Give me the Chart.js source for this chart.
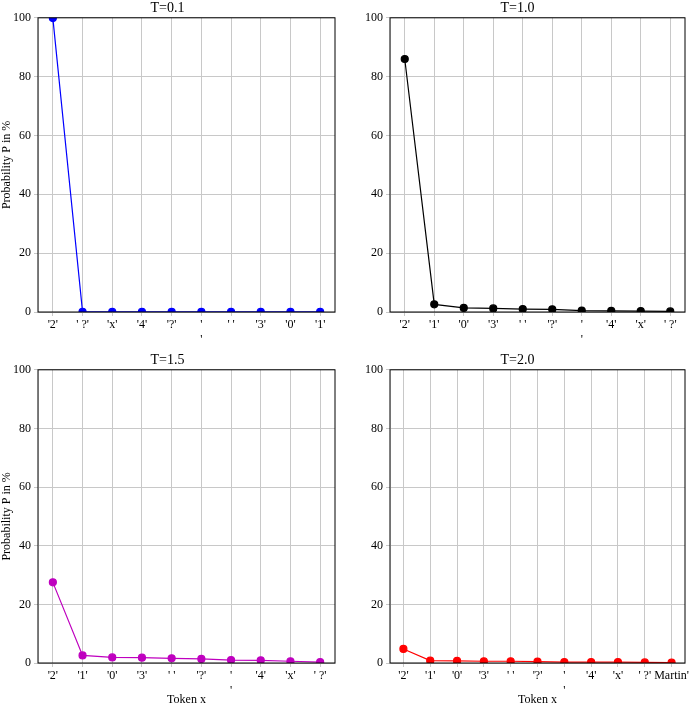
<!DOCTYPE html>
<html lang="en">
<head>
<meta charset="UTF-8" />
<title>Temperature sampling</title>
<script src="https://cdn.jsdelivr.net/npm/chart.js"></script>
<style>
  body { margin: 0; background: #fff; }
  .panel { position: absolute; }
</style>
</head>
<body>
<div class="panel" style="left:0;top:0;width:345px;height:352px"><canvas id="c1"></canvas></div>
<div class="panel" style="left:350px;top:0;width:345px;height:352px"><canvas id="c2"></canvas></div>
<div class="panel" style="left:0;top:352px;width:345px;height:355px"><canvas id="c3"></canvas></div>
<div class="panel" style="left:350px;top:352px;width:345px;height:355px"><canvas id="c4"></canvas></div>
<script>
  const NL = ["'", "'"];
  const labels01 = ["'2'", "' ?'", "'x'", "'4'", "'?'", NL, "' '", "'3'", "'0'", "'1'"];
  const labels10 = ["'2'", "'1'", "'0'", "'3'", "' '", "'?'", NL, "'4'", "'x'", "' ?'"];
  const labels15 = ["'2'", "'1'", "'0'", "'3'", "' '", "'?'", NL, "'4'", "'x'", "' ?'"];
  const labels20 = ["'2'", "'1'", "'0'", "'3'", "' '", "'?'", NL, "'4'", "'x'", "' ?'", "Martin'"];

  const values01 = [99.9, 0.05, 0.02, 0.01, 0.01, 0.01, 0.01, 0.01, 0.01, 0.01];
  const values10 = [86.0, 2.6, 1.4, 1.2, 1.0, 0.9, 0.5, 0.4, 0.3, 0.2];
  const values15 = [27.5, 2.6, 1.9, 1.8, 1.6, 1.4, 1.0, 0.9, 0.6, 0.3];
  const values20 = [4.8, 0.8, 0.7, 0.6, 0.6, 0.5, 0.3, 0.3, 0.3, 0.2, 0.1];

  const yTicks = [0, 20, 40, 60, 80, 100];
  const serif = "'Liberation Serif', 'DejaVu Serif', serif";

  const frame = {
    id: 'frame',
    afterDraw(chart) {
      const a = chart.chartArea, ctx = chart.ctx;
      ctx.save();
      ctx.strokeStyle = '#000';
      ctx.lineWidth = 1;
      ctx.strokeRect(a.left, a.top, a.right - a.left, a.bottom - a.top);
      ctx.restore();
    }
  };

  function makeChart(id, title, labels, values, color, showYTitle, showXTitle, yWidth, xHeight) {
    new Chart(document.getElementById(id), {
      type: 'line',
      data: {
        labels: labels,
        datasets: [{
          data: values,
          borderColor: color,
          backgroundColor: color,
          borderWidth: 1.2,
          pointRadius: 3.5,
          pointHoverRadius: 3.5,
          tension: 0
        }]
      },
      options: {
        responsive: true,
        maintainAspectRatio: false,
        animation: false,
        layout: { padding: { right: 10, top: 0, bottom: 0 } },
        plugins: {
          legend: { display: false },
          tooltip: { enabled: false },
          title: {
            display: true, text: title, color: '#000',
            font: { family: serif, size: 14, weight: 'normal' },
            padding: { top: 0, bottom: 1 }
          }
        },
        scales: {
          x: {
            offset: true,
            afterFit(s) { s.height = xHeight; },
            grid: { offset: false, color: '#c8c8c8', tickLength: 4 },
            ticks: { color: '#000', maxRotation: 0, autoSkip: false, font: { family: serif, size: 12 }, padding: 2 },
            title: { display: showXTitle, text: 'Token x', color: '#000', font: { family: serif, size: 12 }, padding: { top: 0, bottom: 0 } }
          },
          y: {
            min: 0, max: 100,
            afterFit(s) { s.width = yWidth; },
            afterBuildTicks(s) { s.ticks = yTicks.map(v => ({ value: v })); },
            grid: { color: '#c8c8c8', tickLength: 4 },
            ticks: { color: '#000', font: { family: serif, size: 12 }, padding: 3 },
            title: { display: showYTitle, text: 'Probability P in %', color: '#000', font: { family: serif, size: 12 }, padding: 0 }
          }
        }
      },
      plugins: [frame]
    });
  }

  makeChart('c1', 'T=0.1', labels01, values01, '#0000ff', true, false, 38, 40);
  makeChart('c2', 'T=1.0', labels10, values10, '#000000', false, false, 40, 40);
  makeChart('c3', 'T=1.5', labels15, values15, '#bf00bf', true, true, 38, 44);
  makeChart('c4', 'T=2.0', labels20, values20, '#ff0000', false, true, 40, 44);
</script>
</body>
</html>
